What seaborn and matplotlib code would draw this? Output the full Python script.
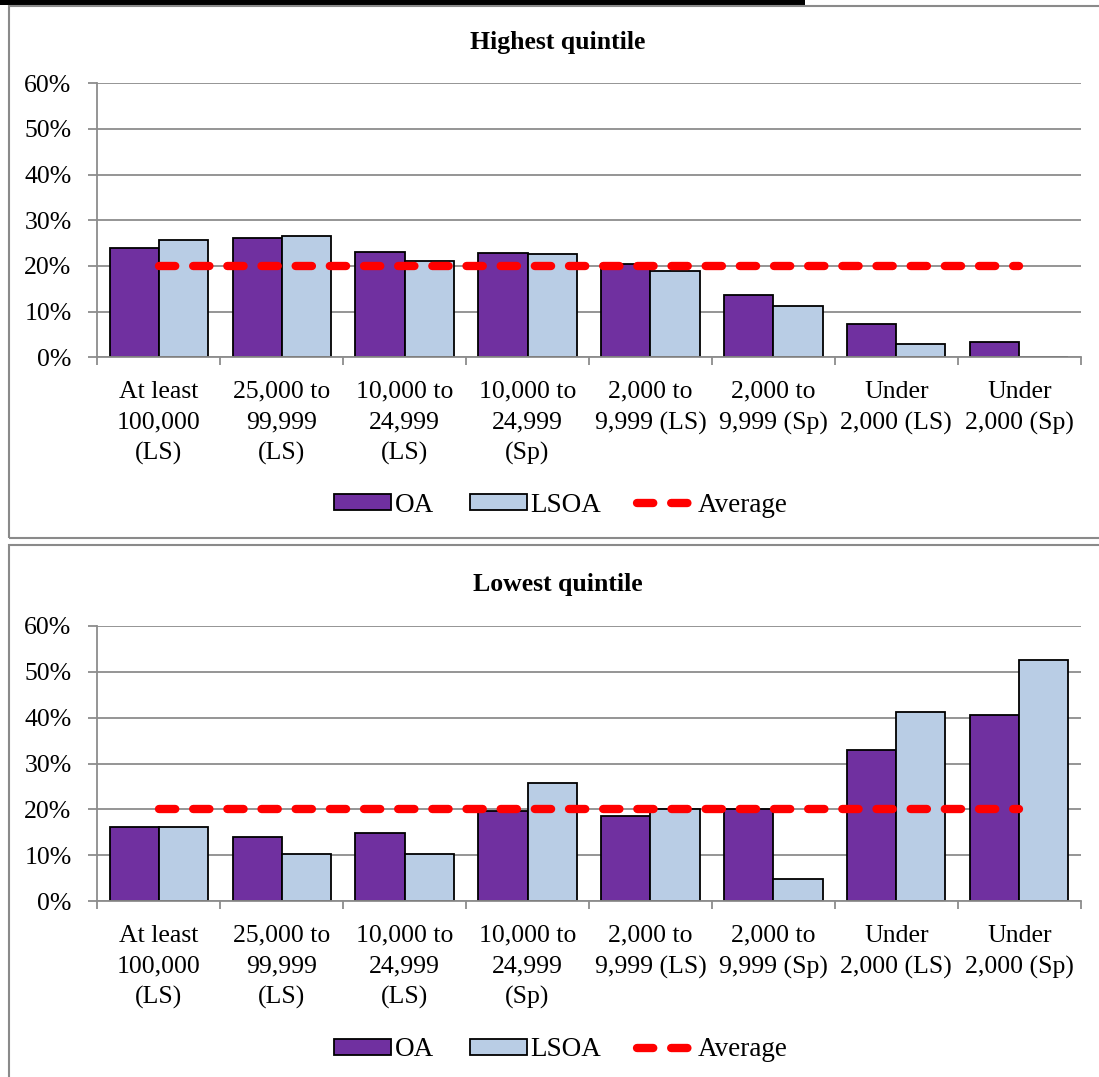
import numpy as np
import pandas as pd
import matplotlib
matplotlib.use("Agg")
import matplotlib.pyplot as plt
from matplotlib.patches import Patch, Rectangle
from matplotlib.lines import Line2D
from matplotlib.ticker import FuncFormatter, FixedLocator
import seaborn as sns

# ---- data -------------------------------------------------------------
categories = [
    "At least\n100,000\n(LS)",
    "25,000 to\n99,999\n(LS)",
    "10,000 to\n24,999\n(LS)",
    "10,000 to\n24,999\n(Sp)",
    "2,000 to\n9,999 (LS)",
    "2,000 to\n9,999 (Sp)",
    "Under\n2,000 (LS)",
    "Under\n2,000 (Sp)",
]
series_names = ["OA", "LSOA"]
average_label = "Average"

highest_oa = [23.9, 26.2, 23.1, 22.8, 20.4, 13.6, 7.2, 3.3]
highest_lsoa = [25.7, 26.5, 21.1, 22.7, 18.9, 11.3, 2.9, 0.0]
lowest_oa = [16.2, 13.9, 14.8, 19.6, 18.5, 20.0, 33.0, 40.5]
lowest_lsoa = [16.2, 10.2, 10.2, 25.7, 20.0, 4.8, 41.3, 52.6]
average_values = [20, 20, 20, 20, 20, 20, 20, 20]

panel_titles = ["Highest quintile", "Lowest quintile"]
y_ticks = [0, 10, 20, 30, 40, 50, 60]

# ---- style ------------------------------------------------------------
sns.set_style("white")
plt.rcParams["font.family"] = ["Liberation Serif", "DejaVu Serif"]
plt.rcParams["text.color"] = "black"
plt.rcParams["xtick.labelcolor"] = "black"
plt.rcParams["ytick.labelcolor"] = "black"
plt.rcParams["legend.labelcolor"] = "black"

PURPLE = "#7030A0"
LIGHT_BLUE = "#B9CDE5"
RED = "#FF0000"
GRID = "#8C8C8C"
FRAME = "#8A8A8A"
AVG_LW = 6
AVG_DASH = (0, (1.95, 2.15))
FS = 18.5

W, H = 1099, 1077
fig = plt.figure(figsize=(W / 100, H / 100), dpi=100)


def fx(px):
    return px / W


def fy(py):
    return 1 - py / H


def draw_panel(ax, oa, lsoa):
    df = pd.DataFrame({
        "category": categories * 2,
        "series": [series_names[0]] * len(categories) + [series_names[1]] * len(categories),
        "value": list(oa) + list(lsoa),
    })
    sns.barplot(data=df, x="category", y="value", hue="series",
                order=categories, hue_order=series_names,
                palette=[PURPLE, LIGHT_BLUE], saturation=1,
                edgecolor="black", linewidth=1.3, width=0.8,
                legend=False, ax=ax)
    sns.lineplot(x=np.arange(len(categories)), y=average_values, ax=ax,
                 color=RED, linewidth=AVG_LW, linestyle=AVG_DASH,
                 dash_capstyle="round", zorder=5)

    ax.set_xlim(-0.5, len(categories) - 0.5)
    ax.set_ylim(0, 60)
    ax.set_xlabel("")
    ax.set_ylabel("")

    ax.yaxis.set_major_locator(FixedLocator(y_ticks))
    ax.yaxis.set_major_formatter(FuncFormatter(lambda v, _: f"{v:.0f}%"))
    ax.yaxis.grid(True, color=GRID, linewidth=1.3)
    ax.xaxis.grid(False)
    ax.set_axisbelow(True)

    ax.set_xticks(np.arange(len(categories)))
    ax.set_xticklabels(categories, linespacing=1.5)
    ax.set_xticks(np.arange(len(categories) + 1) - 0.5, minor=True)
    ax.tick_params(axis="x", which="major", length=0, pad=17, labelsize=FS,
                   labelcolor="black")
    ax.tick_params(axis="x", which="minor", length=6, width=1.3, color=GRID,
                   direction="out", bottom=True)
    ax.tick_params(axis="y", which="major", length=6.5, width=1.3, color=GRID,
                   direction="out", left=True, pad=12, labelsize=FS,
                   labelcolor="black")

    for side in ("top", "right"):
        ax.spines[side].set_visible(False)
    for side in ("left", "bottom"):
        ax.spines[side].set_color(GRID)
        ax.spines[side].set_linewidth(1.3)


def legend_handles():
    return [
        Patch(facecolor=PURPLE, edgecolor="black", linewidth=1.3),
        Patch(facecolor=LIGHT_BLUE, edgecolor="black", linewidth=1.3),
        Line2D([0], [0], color=RED, linewidth=AVG_LW, linestyle=AVG_DASH,
               dash_capstyle="round"),
    ]


# panel frames and the strip above them
fig.add_artist(Rectangle((0, fy(5)), fx(805), 0.02, transform=fig.transFigure,
                         facecolor="black", edgecolor="none"))
fig.add_artist(Rectangle((fx(9), fy(538)), 1.05, (538 - 6) / H,
                         transform=fig.transFigure, fill=False,
                         edgecolor=FRAME, linewidth=1.5))
fig.add_artist(Rectangle((fx(9), fy(1100)), 1.05, (1100 - 545) / H,
                         transform=fig.transFigure, fill=False,
                         edgecolor=FRAME, linewidth=1.5))

panels = [
    (highest_oa, highest_lsoa, 83.3, 357.3, 43, 505),
    (lowest_oa, lowest_lsoa, 626, 901, 585, 1050),
]
x_left, x_right = 97.3, 1080.7

for (oa, lsoa, top, bottom, title_y, legend_y), title in zip(panels, panel_titles):
    ax = fig.add_axes([fx(x_left), fy(bottom), fx(x_right - x_left), (bottom - top) / H])
    draw_panel(ax, oa, lsoa)
    fig.text(fx(558), fy(title_y), title, ha="center", va="center",
             fontsize=18.5, fontweight="bold", color="black")
    fig.legend(legend_handles(), series_names + [average_label],
               loc="center", bbox_to_anchor=(fx(561), fy(legend_y)),
               ncol=3, frameon=False, fontsize=19.5, handlelength=2.1,
               handleheight=0.5, handletextpad=0.15, columnspacing=1.3)

fig.savefig("out.png", dpi=100, facecolor="white")
